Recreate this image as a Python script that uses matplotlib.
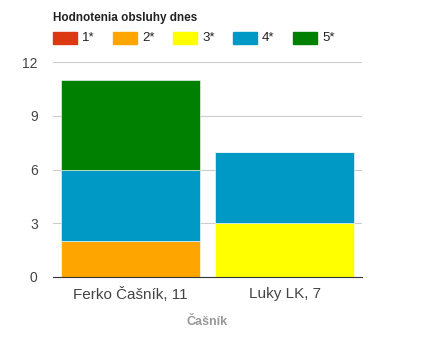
import matplotlib.pyplot as plt
import numpy as np

waiters = ["Ferko Čašník, 11", "Luky LK, 7"]
labels = ["1*", "2*", "3*", "4*", "5*"]
colors = ["#dc3912", "#ffa500", "#ffff00", "#0099c6", "#008000"]
star1 = [0, 0]
star2 = [2, 0]
star3 = [0, 3]
star4 = [4, 4]
star5 = [5, 0]
series = [star1, star2, star3, star4, star5]
yticks = [0, 3, 6, 9, 12]

plt.rcParams['font.family'] = ['Arial', 'Liberation Sans', 'DejaVu Sans']
fig = plt.figure(figsize=(4.37, 3.53), dpi=100)
ax = fig.add_axes([53/437, 1-277/353, 309/437, 215/353])

x = np.arange(len(waiters))
bottom = np.zeros(len(waiters))
for lab, col, vals in zip(labels, colors, series):
    vals = np.array(vals, dtype=float)
    ax.bar(x, vals, 0.9, bottom=bottom, color=col, edgecolor='white', linewidth=0.4, zorder=3)
    bottom += vals

ax.set_xlim(-0.5, 1.5)
ax.set_ylim(0, 12)
ax.set_yticks(yticks)
ax.set_xticks(x)
ax.set_xticklabels(waiters, fontsize=11, color="#444444")
ax.tick_params(axis='y', length=0, pad=11, labelsize=10, labelcolor="#444444")
ax.tick_params(axis='x', length=0, pad=7)
ax.grid(axis='y', color="#cccccc", linewidth=0.8, zorder=0)
for s in ["top", "right", "left"]:
    ax.spines[s].set_visible(False)
ax.spines["bottom"].set_color("#333333")
ax.spines["bottom"].set_zorder(4)
ax.set_xlabel("Čašník", fontsize=9, color="#999999", fontweight='bold', labelpad=10)

fig.text(53/437, 1-18/353, "Hodnotenia obsluhy dnes", fontsize=8.5, fontweight='bold',
         color="#222222", va='center', ha='left')
for i, (lab, col) in enumerate(zip(labels, colors)):
    x0 = 53 + 60*i
    fig.patches.append(plt.Rectangle((x0/437, 1-44/353), 24/437, 12/353,
                                     transform=fig.transFigure, color=col, figure=fig))
    fig.text((x0+29)/437, 1-38/353, lab, fontsize=9.5, color="#222222", va='center', ha='left')

fig.savefig("out.png", dpi=100)
